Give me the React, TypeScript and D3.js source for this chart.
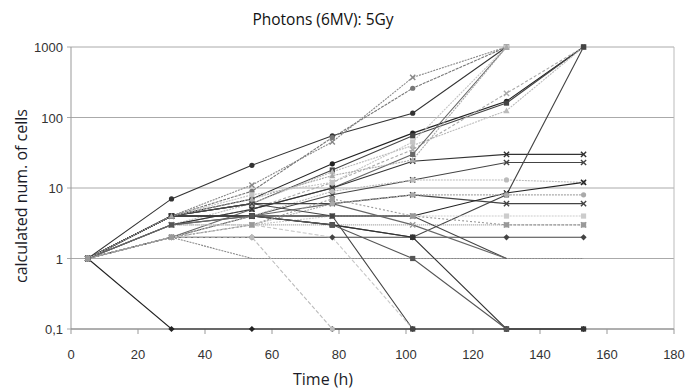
import React from "react";
import * as d3 from "d3";

const W = 687;
const H = 392;

const times = [5, 30, 54, 78, 102, 130, 153];
const xTicks = [0, 20, 40, 60, 80, 100, 120, 140, 160, 180];
const yTicks = [0.1, 1, 10, 100, 1000];
const yTickLabels = ["0,1", "1", "10", "100", "1000"];

type V = number | null;
// each lineage: cell counts at the time points
const s01: V[] = [1, 0.1, 0.1, 0.1, 0.1, 0.1, 0.1];
const s02: V[] = [1, 7, 21, 55, 115, 1000, null];
const s03: V[] = [1, 4, 11, 45, 370, 1000, null];
const s04: V[] = [1, 4, 9, 52, 260, 1000, null];
const s05: V[] = [1, 4, 7, 22, 60, 170, 1000];
const s06: V[] = [1, 4, 6, 18, 55, 160, 1000];
const s07: V[] = [1, 3, 6, 17, 40, 125, 1000];
const s08: V[] = [1, 3, 5, 12, 35, 220, 1000];
const s09: V[] = [1, 2, 5, 10, 30, 1000, null];
const s10: V[] = [1, 4, 8, 12, 45, 1000, null];
const s11: V[] = [1, 3, 5, 10, 24, 30, 30];
const s12: V[] = [1, 2, 4, 8, 13, 23, 23];
const s13: V[] = [1, 2, 4, 9, 13, 13, 12];
const s14: V[] = [1, 4, 6, 6, 8, 6, 6];
const s15: V[] = [1, 4, 4, 4, 4, 8.5, 12];
const s16: V[] = [1, 4, 4, 3, 2, 8, 1000];
const s17: V[] = [1, 2, 2, 2, 2, 2, 2];
const s18: V[] = [1, 2, 3, 6, 8, 8, 8];
const s19: V[] = [1, 2, 3, 4, 4, 4, 4];
const s20: V[] = [1, 3, 3, 3, 3, 3, 3];
const s21: V[] = [1, 2, 1, 1, 1, 1, 1];
const s22: V[] = [1, 2, 2, 0.1, null, null, null];
const s23: V[] = [1, 4, 4, 4, 0.1, null, null];
const s24: V[] = [1, 3, 3, 2, 0.1, null, null];
const s25: V[] = [1, 4, 4, 3, 2, 0.1, 0.1];
const s26: V[] = [1, 3, 4, 3, 1, 0.1, null];
const s27: V[] = [1, 4, 6, 4, 4, 1, null];
const s28: V[] = [1, 3, 4, 6, 3, 1, null];
const s29: V[] = [1, 4, 7, 15, 25, 1000, null];
const s30: V[] = [1, 2, 3, 7, 4, 3, 3];

const seriesList: V[][] = [
  s01, s02, s03, s04, s05, s06, s07, s08, s09, s10,
  s11, s12, s13, s14, s15, s16, s17, s18, s19, s20,
  s21, s22, s23, s24, s25, s26, s27, s28, s29, s30,
];

type Style = { color: string; marker: string; dash?: string; mcolor?: string };
const styles: Style[] = [
  { color: "#222", marker: "diamond" },
  { color: "#333", marker: "circle" },
  { color: "#888", marker: "x", dash: "2,1" },
  { color: "#777", marker: "circle", dash: "3,1" },
  { color: "#222", marker: "circle" },
  { color: "#444", marker: "square" },
  { color: "#bbb", marker: "triangle", dash: "2,1" },
  { color: "#aaa", marker: "x", dash: "3,2" },
  { color: "#666", marker: "square" },
  { color: "#c4c4c4", marker: "square", dash: "2,1" },
  { color: "#333", marker: "x" },
  { color: "#444", marker: "x" },
  { color: "#bbb", marker: "circle", dash: "2,1" },
  { color: "#444", marker: "x" },
  { color: "#222", marker: "x" },
  { color: "#444", marker: "square" },
  { color: "#444", marker: "diamond" },
  { color: "#aaa", marker: "circle", dash: "2,1" },
  { color: "#ccc", marker: "square", dash: "2,1" },
  { color: "#999", marker: "x", dash: "1,1" },
  { color: "#888", marker: "none", dash: "2,1" },
  { color: "#bbb", marker: "circle", dash: "4,2" },
  { color: "#444", marker: "square" },
  { color: "#c8c8c8", marker: "none", dash: "4,2" },
  { color: "#333", marker: "square" },
  { color: "#555", marker: "square" },
  { color: "#444", marker: "none" },
  { color: "#666", marker: "none" },
  { color: "#aaa", marker: "triangle", dash: "2,1" },
  { color: "#999", marker: "square", dash: "2,2" },
];

const left = 71;
const right = 674;
const top = 47;
const bottom = 329;

const title = "Photons (6MV): 5Gy";
const xTitle = "Time (h)";
const yTitle = "calculated num. of cells";

function Marker({ kind, x, y, color }: { kind: string; x: number; y: number; color: string }) {
  const r = 2.6;
  if (kind === "circle") return <circle cx={x} cy={y} r={r} fill={color} />;
  if (kind === "square") return <rect x={x - r} y={y - r} width={2 * r} height={2 * r} fill={color} />;
  if (kind === "diamond")
    return <path d={`M${x},${y - r - 0.5}L${x + r + 0.5},${y}L${x},${y + r + 0.5}L${x - r - 0.5},${y}Z`} fill={color} />;
  if (kind === "triangle")
    return <path d={`M${x},${y - r - 0.5}L${x + r + 0.5},${y + r}L${x - r - 0.5},${y + r}Z`} fill={color} />;
  if (kind === "x")
    return (
      <path
        d={`M${x - r},${y - r}L${x + r},${y + r}M${x - r},${y + r}L${x + r},${y - r}`}
        stroke={color}
        strokeWidth={1.4}
      />
    );
  return null;
}

export default function App() {
  const x = d3.scaleLinear().domain([0, 180]).range([left, right]);
  const y = d3.scaleLog().domain([0.1, 1000]).range([bottom, top]);

  const line = d3
    .line<V>()
    .defined((d) => d != null)
    .x((_, i) => x(times[i]))
    .y((d) => y(d as number));

  const tickFont = "'Liberation Sans', Arial, sans-serif";
  const labelFont = "'Open Sans', 'Noto Sans', sans-serif";

  return (
    <svg
      width={W}
      height={H}
      style={{ position: "absolute", left: 0, top: 0, background: "#fff" }}
    >
      <rect x={0} y={0} width={W} height={H} fill="#fff" />
      {/* grid */}
      {yTicks.map((t) => (
        <line key={"g" + t} x1={left - 4} x2={right} y1={y(t)} y2={y(t)} stroke="#aaa" strokeWidth={1} />
      ))}
      <line x1={left} x2={left} y1={top} y2={bottom} stroke="#999" />
      <line x1={right} x2={right} y1={top} y2={bottom} stroke="#bbb" />
      <line x1={left} x2={right} y1={bottom} y2={bottom} stroke="#888" />
      {xTicks.map((t) => (
        <line key={"xt" + t} x1={x(t)} x2={x(t)} y1={bottom} y2={bottom + 5} stroke="#999" />
      ))}
      {/* series */}
      {seriesList.map((s, i) => (
        <path
          key={"s" + i}
          d={line(s) || ""}
          fill="none"
          stroke={styles[i].color}
          strokeWidth={1.1}
          strokeDasharray={styles[i].dash}
        />
      ))}
      {seriesList.map((s, i) =>
        s.map((v, j) =>
          v == null ? null : (
            <Marker key={`m${i}-${j}`} kind={styles[i].marker} x={x(times[j])} y={y(v)} color={styles[i].color} />
          )
        )
      )}
      {/* tick labels */}
      {yTicks.map((t, i) => (
        <text
          key={"yl" + t}
          x={63}
          y={y(t) + 5}
          textAnchor="end"
          fontFamily={tickFont}
          fontSize={13}
          fill="#333"
        >
          {yTickLabels[i]}
        </text>
      ))}
      {xTicks.map((t) => (
        <text
          key={"xl" + t}
          x={x(t)}
          y={359}
          textAnchor="middle"
          fontFamily={tickFont}
          fontSize={13}
          fill="#333"
        >
          {t}
        </text>
      ))}
      <text x={323} y={25} textAnchor="middle" fontFamily={labelFont} fontSize={15.5} fill="#111">
        {title}
      </text>
      <text x={323} y={385} textAnchor="middle" fontFamily={labelFont} fontSize={16} fill="#1c1c28">
        {xTitle}
      </text>
      <text
        transform={`translate(27,196) rotate(-90)`}
        textAnchor="middle"
        fontFamily={labelFont}
        fontSize={16}
        fill="#1c1c28"
      >
        {yTitle}
      </text>
    </svg>
  );
}
